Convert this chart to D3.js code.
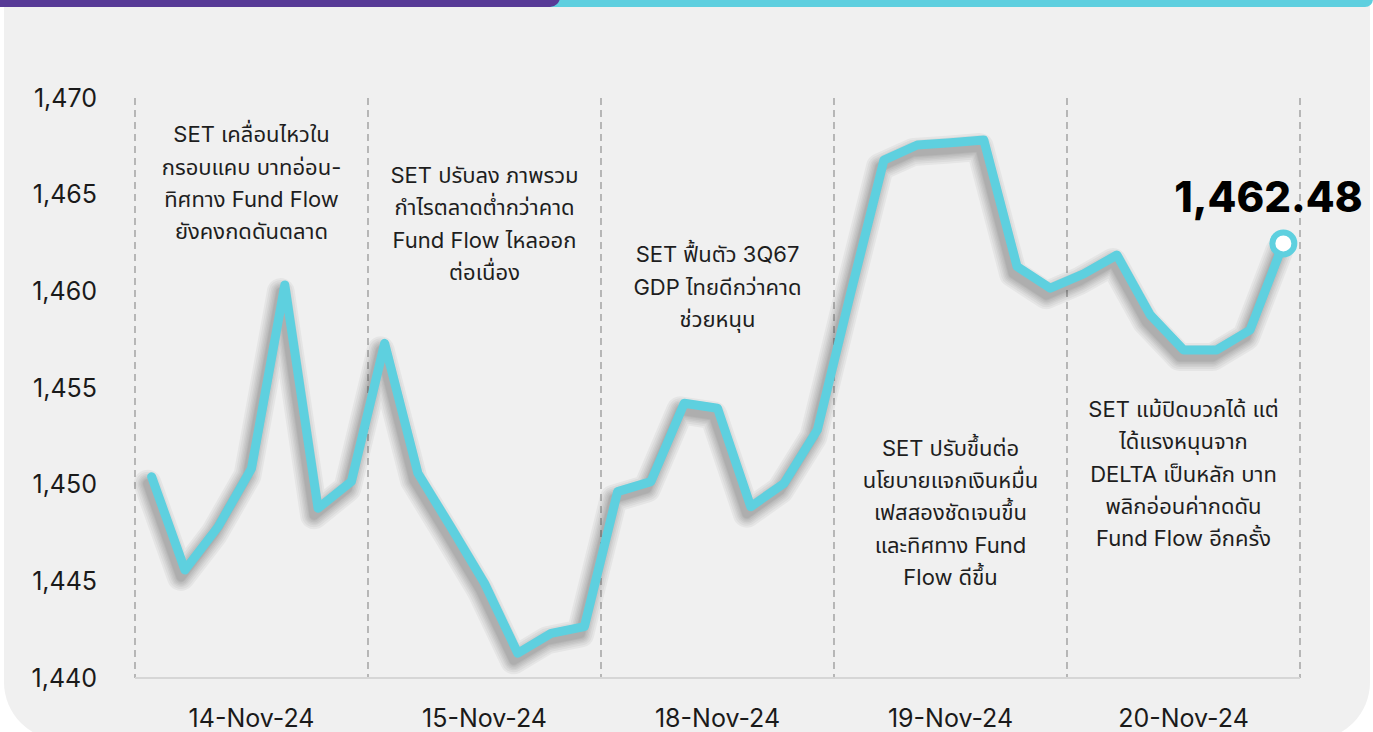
<!DOCTYPE html>
<html>
<head>
<meta charset="utf-8">
<script src="https://cdn.jsdelivr.net/npm/d3@7/dist/d3.min.js"></script>
<style>
  html, body { margin: 0; padding: 0; background: #ffffff; }
  svg { display: block; }
  text { font-family: "Inter", "Noto Sans Thai", "Noto Sans", sans-serif; }
</style>
</head>
<body>
<svg id="chart" width="1373" height="732"></svg>
<script>
// ---------- data ----------
const days = ["14-Nov-24", "15-Nov-24", "18-Nov-24", "19-Nov-24", "20-Nov-24"];
const setIndex = [
  1450.41, 1445.59, 1447.83, 1450.84, 1460.33, 1448.78, 1450.16,
  1457.31, 1450.59, 1447.78, 1444.90, 1441.28, 1442.31, 1442.66,
  1449.64, 1450.16, 1454.21, 1453.95, 1448.86, 1450.07, 1452.83,
  1459.90, 1466.79, 1467.57, 1467.69, 1467.83, 1461.28, 1460.16,
  1460.90, 1461.88, 1458.78, 1456.97, 1456.97, 1458.00, 1462.48
];
const yTicks = [1440, 1445, 1450, 1455, 1460, 1465, 1470];
const notes = [
  ["SET เคลื่อนไหวใน", "กรอบแคบ บาทอ่อน-", "ทิศทาง Fund Flow", "ยังคงกดดันตลาด"],
  ["SET ปรับลง ภาพรวม", "กำไรตลาดต่ำกว่าคาด", "Fund Flow ไหลออก", "ต่อเนื่อง"],
  ["SET ฟื้นตัว 3Q67", "GDP ไทยดีกว่าคาด", "ช่วยหนุน"],
  ["SET ปรับขึ้นต่อ", "นโยบายแจกเงินหมื่น", "เฟสสองชัดเจนขึ้น", "และทิศทาง Fund", "Flow ดีขึ้น"],
  ["SET แม้ปิดบวกได้ แต่", "ได้แรงหนุนจาก", "DELTA เป็นหลัก บาท", "พลิกอ่อนค่ากดดัน", "Fund Flow อีกครั้ง"]
];
const noteTopValue = [1467.7, 1465.6, 1461.5, 1451.5, 1453.5];
const lastLabel = "1,462.48";

// ---------- layout ----------
const mLeft = 135, mRight = 1300, mTop = 98, mBottom = 678;
const svg = d3.select("#chart");

// background card + top bars
svg.append("rect").attr("x", 4).attr("y", -60).attr("width", 1366).attr("height", 800)
  .attr("rx", 58).attr("fill", "#f0f0f0");
svg.append("rect").attr("x", 500).attr("y", -20).attr("width", 873).attr("height", 27)
  .attr("rx", 8).attr("fill", "#5ecfdf");
svg.append("rect").attr("x", -20).attr("y", -20).attr("width", 580).attr("height", 27)
  .attr("rx", 10).attr("fill", "#573a96");

// scales
const idx = d3.range(setIndex.length);
const x = d3.scaleBand().domain(idx).range([mLeft, mRight]);
const xDay = d3.scaleBand().domain(days).range([mLeft, mRight]);
const y = d3.scaleLinear().domain([1440, 1470]).range([mBottom, mTop]);

// dashed vertical separators
const seps = days.map(d => xDay(d)).concat([mRight]);
svg.append("g").selectAll("line").data(seps).join("line")
  .attr("x1", d => d).attr("x2", d => d)
  .attr("y1", mTop).attr("y2", mBottom)
  .attr("stroke", "#a9a9a9").attr("stroke-width", 1.6)
  .attr("stroke-dasharray", "7,5");

// baseline
svg.append("line").attr("x1", mLeft).attr("x2", mRight).attr("y1", mBottom).attr("y2", mBottom)
  .attr("stroke", "#d6d6d6").attr("stroke-width", 2);

// y axis
const yAxis = svg.append("g").attr("transform", `translate(${mLeft - 38},0)`)
  .call(d3.axisLeft(y).tickValues(yTicks).tickFormat(d3.format(",")).tickSize(0).tickPadding(0));
yAxis.select(".domain").remove();
yAxis.selectAll("text").attr("font-size", 25).attr("fill", "#1a1a1a")
  .style("font-family", "Inter, 'Noto Sans', sans-serif");

// x axis
const xAxis = svg.append("g").attr("transform", `translate(0,${mBottom})`)
  .call(d3.axisBottom(xDay).tickSize(0).tickPadding(31));
xAxis.select(".domain").remove();
xAxis.selectAll("text").attr("font-size", 25).attr("fill", "#1a1a1a")
  .style("font-family", "Inter, 'Noto Sans', sans-serif");

// annotations
const lineH = 32.3;
notes.forEach((lines, i) => {
  const cx = xDay(days[i]) + xDay.bandwidth() / 2;
  const t = svg.append("text").attr("text-anchor", "middle")
    .attr("font-size", 22).attr("fill", "#1e1e1e");
  lines.forEach((s, k) => {
    t.append("tspan").attr("x", cx).attr("y", y(noteTopValue[i]) + k * lineH).text(s);
  });
});

// line generator
const line = d3.line()
  .x((d, i) => x(i) + x.bandwidth() / 2)
  .y(d => y(d));

// soft shadow: stacked translucent copies, offset down-left
const shadowG = svg.append("g").attr("transform", "translate(-4,7)");
[28, 24, 20, 17, 14, 11, 9].forEach(w => {
  shadowG.append("path").datum(setIndex)
    .attr("d", line)
    .attr("fill", "none")
    .attr("stroke", "#000")
    .attr("stroke-opacity", 0.045)
    .attr("stroke-width", w)
    .attr("stroke-linejoin", "round")
    .attr("stroke-linecap", "round");
});

// main line
svg.append("path").datum(setIndex)
  .attr("d", line)
  .attr("fill", "none")
  .attr("stroke", "#5ed0df")
  .attr("stroke-width", 9)
  .attr("stroke-linejoin", "round")
  .attr("stroke-linecap", "round");

// last point marker
const li = setIndex.length - 1;
const lx = x(li) + x.bandwidth() / 2, ly = y(setIndex[li]);
svg.append("circle").attr("cx", lx).attr("cy", ly).attr("r", 11)
  .attr("fill", "#ffffff").attr("stroke", "#5ed0df").attr("stroke-width", 6);

svg.append("text").attr("x", lx - 15).attr("y", ly - 31)
  .attr("text-anchor", "middle").attr("font-size", 42).attr("font-weight", 800)
  .attr("fill", "#000").style("font-family", "Inter, 'Noto Sans', sans-serif")
  .text(lastLabel);
</script>
</body>
</html>
